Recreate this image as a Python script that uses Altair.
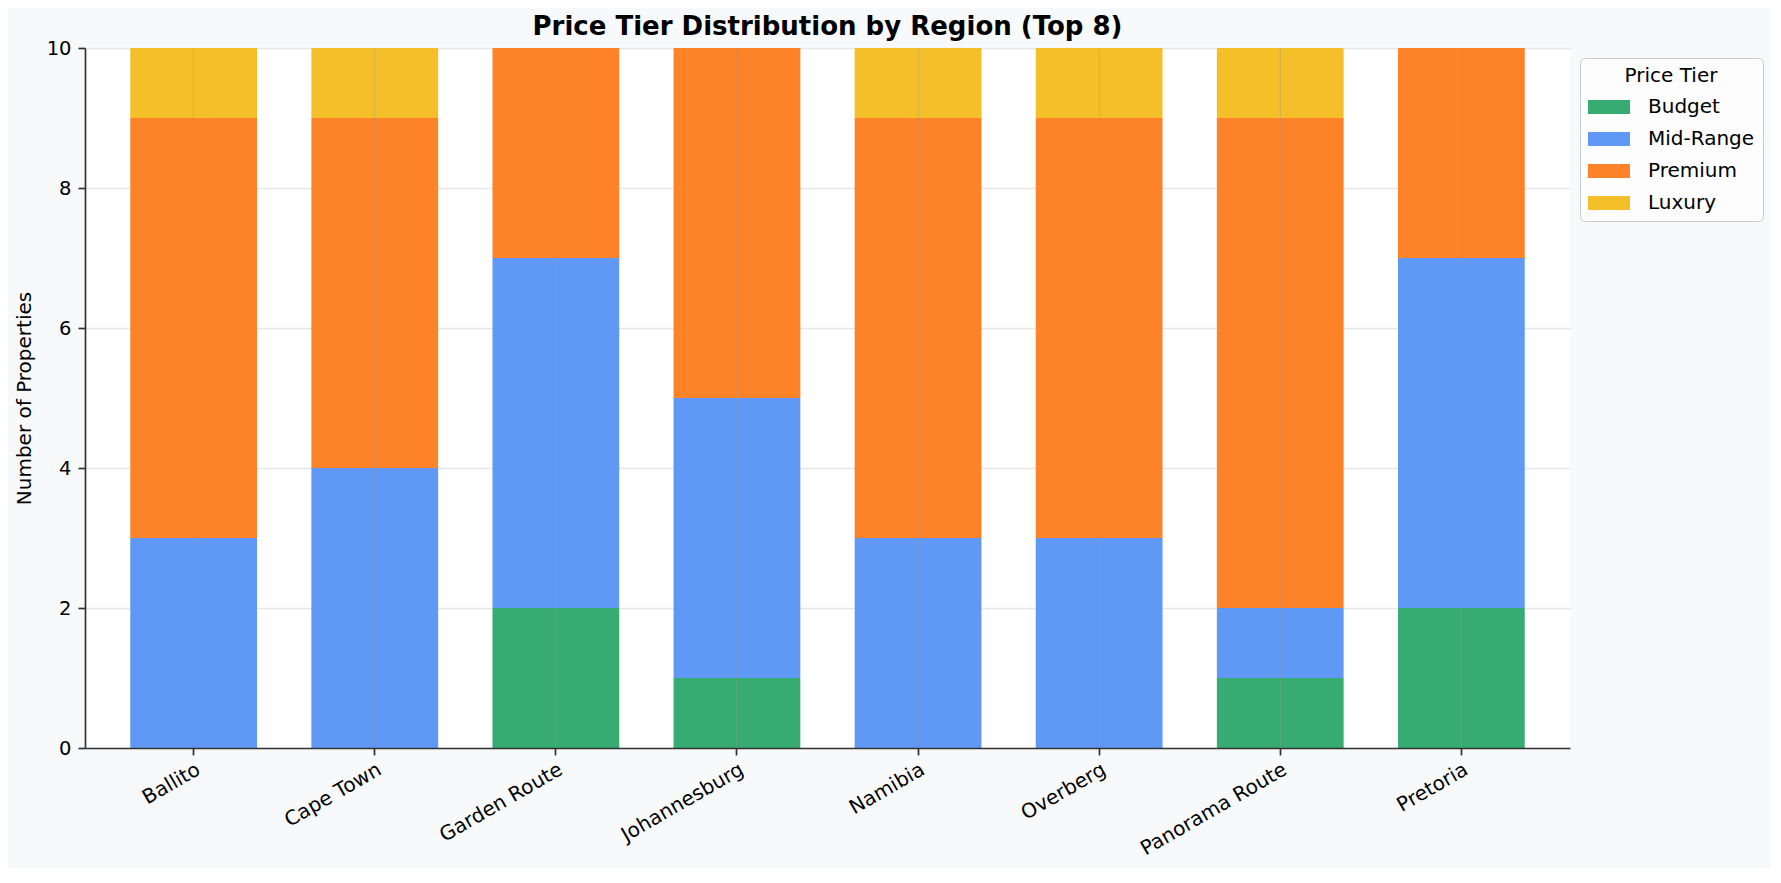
import altair as alt
import pandas as pd

regions = ["Ballito", "Cape Town", "Garden Route", "Johannesburg",
           "Namibia", "Overberg", "Panorama Route", "Pretoria"]
tiers = ["Budget", "Mid-Range", "Premium", "Luxury"]
tier_colors = ["#36ab72", "#6098f5", "#fe8228", "#f4bf29"]

budget = [0, 0, 2, 1, 0, 0, 1, 2]
mid_range = [3, 4, 5, 4, 3, 3, 1, 5]
premium = [6, 5, 3, 5, 6, 6, 7, 3]
luxury = [1, 1, 0, 0, 1, 1, 1, 0]

y_ticks = [0, 2, 4, 6, 8, 10]

rows = []
for i, region in enumerate(regions):
    for k, (tier, vals) in enumerate(zip(tiers, [budget, mid_range, premium, luxury])):
        rows.append({"Region": region, "Tier": tier, "order": k, "Count": vals[i]})
df = pd.DataFrame(rows)

font = "DejaVu Sans"

chart = (
    alt.Chart(df)
    .mark_bar()
    .encode(
        x=alt.X(
            "Region:N",
            sort=regions,
            title=None,
            scale=alt.Scale(paddingInner=0.3, paddingOuter=0.25),
            axis=alt.Axis(
                labelAngle=-30,
                labelAlign="right",
                labelBaseline="top",
                labelFontSize=20,
                labelPadding=4,
                grid=True,
                gridColor="#9a9a9a",
                gridOpacity=0.3,
                gridWidth=1.2,
                zindex=1,
            ),
        ),
        y=alt.Y(
            "Count:Q",
            title="Number of Properties",
            scale=alt.Scale(domain=[0, 10], nice=False),
            axis=alt.Axis(
                values=y_ticks,
                labelFontSize=19.5,
                labelPadding=7,
                titleFontSize=20,
                titleFontWeight="normal",
                titlePadding=12,
                grid=True,
                gridColor="#e6e6e6",
                gridWidth=1.5,
            ),
        ),
        color=alt.Color(
            "Tier:N",
            sort=tiers,
            scale=alt.Scale(domain=tiers, range=tier_colors),
            legend=alt.Legend(
                title="Price Tier",
                orient="none",
                legendX=1495,
                legendY=10,
                titleAnchor="middle",
                titleFontSize=20,
                titleFontWeight="normal",
                titlePadding=7,
                labelFontSize=20,
                labelOffset=25,
                symbolType="M-1.5,-0.5L1.5,-0.5L1.5,0.5L-1.5,0.5Z",
                symbolSize=784,
                symbolStrokeWidth=0,
                symbolOpacity=1,
                symbolOffset=7,
                rowPadding=8,
                padding=8,
                cornerRadius=5,
                strokeColor="#cccccc",
                fillColor="#fdfdfd",
            ),
        ),
        order=alt.Order("order:Q", sort="ascending"),
    )
    .properties(
        width=1485,
        height=700,
        padding={"left": 77, "top": 40, "right": 201, "bottom": 120},
        autosize=alt.AutoSizeParams(type="none"),
        background="#f8f9fa",
        title=alt.Title(
            "Price Tier Distribution by Region (Top 8)",
            fontSize=26,
            fontWeight="bold",
            font=font,
            anchor="middle",
            frame="group",
            baseline="alphabetic",
            offset=-23,
            color="black",
        ),
    )
    .configure_view(fill="white", strokeWidth=0)
    .configure_axis(
        labelFont=font,
        titleFont=font,
        labelColor="black",
        titleColor="black",
        domainColor="#333333",
        domainWidth=1.7,
        tickColor="#333333",
        tickWidth=1.7,
        tickSize=7,
    )
    .configure_legend(labelFont=font, titleFont=font, labelColor="black", titleColor="black")
)

chart.save("out.html", embed_options={"renderer": "svg", "actions": False})
